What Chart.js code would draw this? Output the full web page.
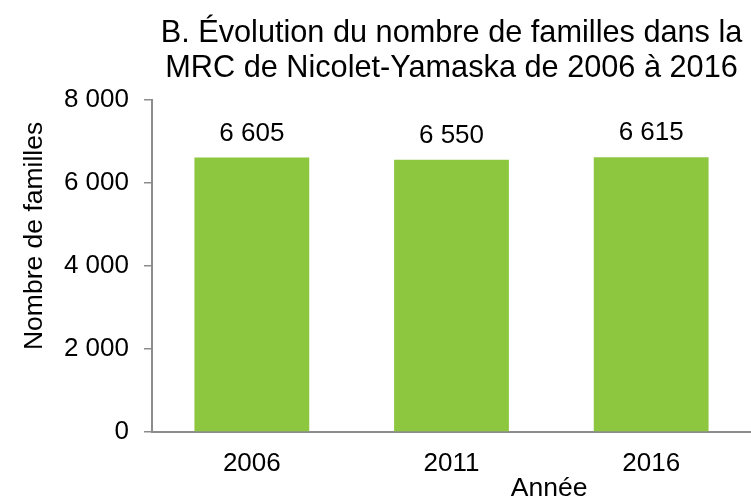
<!DOCTYPE html>
<html>
<head>
<meta charset="utf-8">
<script src="https://cdn.jsdelivr.net/npm/chart.js@4/dist/chart.umd.min.js"></script>
<style>
  html, body { margin: 0; padding: 0; background: #fff; }
  #wrap { width: 751px; height: 497px; }
</style>
</head>
<body>
<div id="wrap"><canvas id="chart" width="751" height="497"></canvas></div>
<script>
const years = ['2006', '2011', '2016'];
const familles = [6605, 6550, 6615];
const yTicks = [0, 2000, 4000, 6000, 8000];
const titleLines = ['B. Évolution du nombre de familles dans la', 'MRC de Nicolet-Yamaska de 2006 à 2016'];
const yTitle = 'Nombre de familles';
const xTitle = 'Année';

const FONT = "'Liberation Sans', Arial, sans-serif";
const GREEN = '#8dc63f';
const AXIS = '#8c8c8c';

// thousands with a space, like the source (6 605)
const fmt = v => String(v).replace(/\B(?=(\d{3})+(?!\d))/g, ' ');

const valueLabels = {
  id: 'valueLabels',
  afterDatasetsDraw(chart) {
    const ctx = chart.ctx;
    const meta = chart.getDatasetMeta(0);
    ctx.save();
    ctx.font = `26px ${FONT}`;
    ctx.fillStyle = '#000';
    ctx.textAlign = 'center';
    ctx.textBaseline = 'alphabetic';
    meta.data.forEach((bar, i) => {
      ctx.fillText(fmt(familles[i]), bar.x, bar.y - 17);
    });
    ctx.restore();
  }
};

// both axis titles are off-centre in the source, so draw them by hand
const axisTitles = {
  id: 'axisTitles',
  afterDraw(chart) {
    const { ctx, chartArea } = chart;
    const w = chartArea.right - chartArea.left;
    const h = chartArea.bottom - chartArea.top;
    ctx.save();
    ctx.font = `26.5px ${FONT}`;
    ctx.fillStyle = '#000';
    ctx.textAlign = 'center';
    ctx.textBaseline = 'alphabetic';
    ctx.fillText(xTitle, chartArea.left + w * 0.663, chart.height - 1);

    ctx.translate(42, chartArea.top + h * 0.41);
    ctx.rotate(-Math.PI / 2);
    ctx.fillText(yTitle, 0, 0);
    ctx.restore();
  }
};

new Chart(document.getElementById('chart'), {
  type: 'bar',
  data: {
    labels: years,
    datasets: [{
      data: familles,
      backgroundColor: GREEN,
      borderWidth: 0,
      categoryPercentage: 1,
      barPercentage: 0.575
    }]
  },
  options: {
    responsive: false,
    animation: false,
    // the source plot runs a little past the right edge
    layout: { padding: { left: 0, right: -6, top: 0, bottom: 0 } },
    plugins: {
      legend: { display: false },
      tooltip: { enabled: false },
      title: {
        display: true,
        text: titleLines,
        fullSize: false,
        color: '#000',
        font: { family: FONT, size: 30.7, weight: 'normal', lineHeight: 1.15 },
        padding: { top: 16, bottom: 13 }
      }
    },
    scales: {
      x: {
        grid: { display: false, drawTicks: false },
        border: { display: true, color: AXIS, width: 2 },
        ticks: { color: '#000', font: { family: FONT, size: 26 }, padding: 16, maxRotation: 0 },
        afterFit(scale) { scale.height = 65; }
      },
      y: {
        min: 0,
        max: 8000,
        afterBuildTicks(scale) { scale.ticks = yTicks.map(v => ({ value: v })); },
        grid: { drawOnChartArea: false, drawTicks: true, tickLength: 8, color: AXIS, lineWidth: 1.5 },
        border: { display: true, color: AXIS, width: 2 },
        ticks: { color: '#000', font: { family: FONT, size: 26 }, padding: 15, callback: v => fmt(v) },
        afterFit(scale) { scale.width = 152; }
      }
    }
  },
  plugins: [valueLabels, axisTitles]
});
</script>
</body>
</html>
